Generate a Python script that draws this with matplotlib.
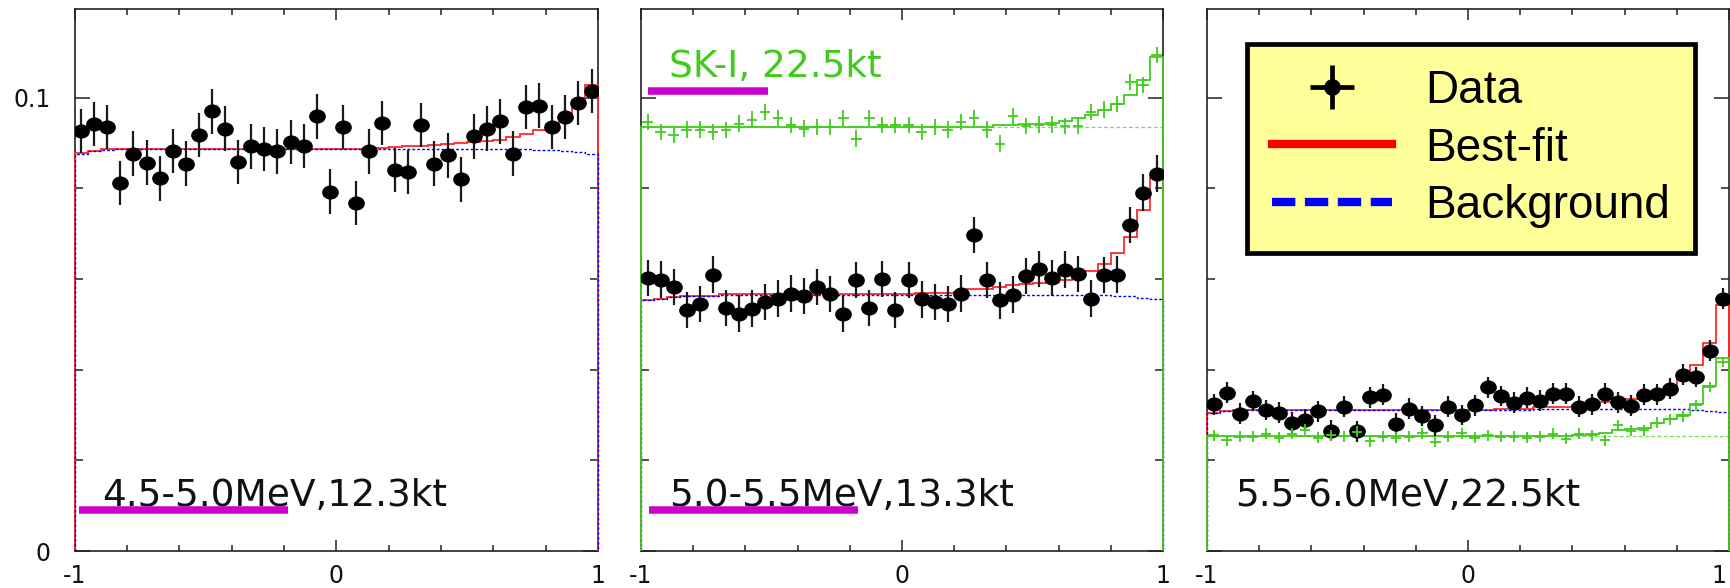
import numpy as np
import matplotlib
matplotlib.use("Agg")
import matplotlib.pyplot as plt
from matplotlib.path import Path
from matplotlib.lines import Line2D
from matplotlib.legend_handler import HandlerTuple
from matplotlib.ticker import MultipleLocator, FormatStrFormatter
from matplotlib.transforms import ScaledTranslation

plt.rcParams['axes.unicode_minus'] = False

# cos(theta_sun) binning: 40 bins from -1 to 1
COS_EDGES = np.linspace(-1, 1, 41)

PANEL_LABELS = ["4.5-5.0MeV,12.3kt", "5.0-5.5MeV,13.3kt", "5.5-6.0MeV,22.5kt"]
SK1_LABEL = "SK-I, 22.5kt"
LEGEND_LABELS = ["Data", "Best-fit", "Background"]

# ---- 4.5-5.0 MeV ----
data_45 = [0.0927, 0.0942, 0.0935, 0.0812, 0.0877, 0.0857, 0.0822, 0.0883, 0.0855, 0.0918,
           0.0970, 0.0932, 0.0858, 0.0893, 0.0887, 0.0882, 0.0902, 0.0894, 0.0959, 0.0793,
           0.0935, 0.0768, 0.0882, 0.0945, 0.0841, 0.0836, 0.0940, 0.0855, 0.0873, 0.0820,
           0.0915, 0.0932, 0.0948, 0.0877, 0.0980, 0.0983, 0.0935, 0.0958, 0.0989, 0.1015]
err_45 = 0.0049
fit_45 = [0.0878, 0.0883, 0.0886, 0.0887, 0.0887, 0.0887, 0.0887, 0.0887, 0.0887, 0.0887,
          0.0887, 0.0887, 0.0887, 0.0887, 0.0887, 0.0887, 0.0887, 0.0887, 0.0887, 0.0887,
          0.0887, 0.0888, 0.0889, 0.0890, 0.0891, 0.0893, 0.0894, 0.0896, 0.0898, 0.0900,
          0.0903, 0.0905, 0.0908, 0.0914, 0.0921, 0.0929, 0.0942, 0.0963, 0.0989, 0.1028]
bg_45 = [0.0877, 0.0882, 0.0885, 0.0887, 0.0887, 0.0887, 0.0887, 0.0887, 0.0887, 0.0887,
         0.0887, 0.0887, 0.0887, 0.0887, 0.0887, 0.0887, 0.0887, 0.0887, 0.0887, 0.0887,
         0.0887, 0.0887, 0.0887, 0.0887, 0.0887, 0.0887, 0.0887, 0.0887, 0.0887, 0.0887,
         0.0887, 0.0887, 0.0887, 0.0886, 0.0886, 0.0885, 0.0884, 0.0882, 0.0880, 0.0877]

# ---- 5.0-5.5 MeV ----
data_50 = [0.0603, 0.0599, 0.0583, 0.0531, 0.0545, 0.0610, 0.0537, 0.0524, 0.0535, 0.0550,
           0.0557, 0.0568, 0.0562, 0.0583, 0.0567, 0.0524, 0.0598, 0.0537, 0.0601, 0.0531,
           0.0598, 0.0555, 0.0550, 0.0545, 0.0568, 0.0698, 0.0598, 0.0553, 0.0566, 0.0607,
           0.0623, 0.0603, 0.0621, 0.0612, 0.0557, 0.0609, 0.0610, 0.0719, 0.0791, 0.0833]
err_50 = 0.0040
fit_50 = [0.0553, 0.0557, 0.0560, 0.0563, 0.0563, 0.0563, 0.0567, 0.0567, 0.0567, 0.0567,
          0.0567, 0.0567, 0.0567, 0.0567, 0.0567, 0.0567, 0.0567, 0.0567, 0.0567, 0.0567,
          0.0567, 0.0570, 0.0570, 0.0570, 0.0572, 0.0579, 0.0579, 0.0583, 0.0587, 0.0590,
          0.0592, 0.0594, 0.0599, 0.0609, 0.0618, 0.0634, 0.0658, 0.0693, 0.0752, 0.0822]
bg_50 = [0.0553, 0.0557, 0.0560, 0.0563, 0.0563, 0.0563, 0.0566, 0.0566, 0.0566, 0.0566,
         0.0566, 0.0566, 0.0566, 0.0566, 0.0566, 0.0566, 0.0566, 0.0566, 0.0566, 0.0566,
         0.0566, 0.0566, 0.0566, 0.0566, 0.0566, 0.0566, 0.0566, 0.0566, 0.0566, 0.0566,
         0.0566, 0.0566, 0.0566, 0.0566, 0.0566, 0.0565, 0.0563, 0.0562, 0.0558, 0.0557]
sk1_50 = [0.0947, 0.0925, 0.0919, 0.0930, 0.0930, 0.0925, 0.0929, 0.0943, 0.0952, 0.0969,
          0.0955, 0.0940, 0.0932, 0.0936, 0.0936, 0.0955, 0.0910, 0.0956, 0.0940, 0.0940,
          0.0940, 0.0925, 0.0936, 0.0930, 0.0947, 0.0955, 0.0930, 0.0899, 0.0960, 0.0938,
          0.0941, 0.0941, 0.0938, 0.0938, 0.0969, 0.0974, 0.0986, 0.1035, 0.1028, 0.1094]
sk1_err_50 = 0.0018
sk1_fit_50 = [0.0935, 0.0935, 0.0935, 0.0935, 0.0935, 0.0935, 0.0935, 0.0935, 0.0935, 0.0935,
              0.0935, 0.0935, 0.0935, 0.0935, 0.0935, 0.0935, 0.0935, 0.0935, 0.0935, 0.0935,
              0.0935, 0.0935, 0.0935, 0.0935, 0.0935, 0.0935, 0.0935, 0.0940, 0.0940, 0.0943,
              0.0943, 0.0945, 0.0949, 0.0955, 0.0962, 0.0973, 0.0986, 0.1006, 0.1039, 0.1091]
sk1_bg_50 = 0.0935

# ---- 5.5-6.0 MeV ----
data_55 = [0.0324, 0.0349, 0.0303, 0.0331, 0.0311, 0.0305, 0.0283, 0.0290, 0.0308, 0.0265,
           0.0318, 0.0264, 0.0339, 0.0345, 0.0281, 0.0314, 0.0298, 0.0277, 0.0318, 0.0300,
           0.0322, 0.0361, 0.0342, 0.0327, 0.0338, 0.0332, 0.0347, 0.0347, 0.0318, 0.0324,
           0.0347, 0.0328, 0.0321, 0.0345, 0.0346, 0.0358, 0.0389, 0.0384, 0.0442, 0.0557]
err_55 = 0.0023
fit_55 = [0.0305, 0.0310, 0.0312, 0.0312, 0.0312, 0.0312, 0.0312, 0.0312, 0.0312, 0.0312,
          0.0312, 0.0312, 0.0312, 0.0312, 0.0312, 0.0312, 0.0312, 0.0312, 0.0312, 0.0312,
          0.0312, 0.0312, 0.0314, 0.0314, 0.0314, 0.0318, 0.0318, 0.0318, 0.0322, 0.0322,
          0.0329, 0.0329, 0.0336, 0.0344, 0.0349, 0.0362, 0.0388, 0.0410, 0.0459, 0.0542]
bg_55 = [0.0305, 0.0310, 0.0312, 0.0312, 0.0312, 0.0312, 0.0312, 0.0312, 0.0312, 0.0312,
         0.0312, 0.0312, 0.0312, 0.0312, 0.0312, 0.0312, 0.0312, 0.0312, 0.0312, 0.0312,
         0.0312, 0.0312, 0.0312, 0.0312, 0.0312, 0.0314, 0.0314, 0.0314, 0.0314, 0.0314,
         0.0314, 0.0314, 0.0314, 0.0314, 0.0314, 0.0314, 0.0313, 0.0311, 0.0308, 0.0306]
sk1_55 = [0.0255, 0.0244, 0.0252, 0.0252, 0.0259, 0.0250, 0.0259, 0.0268, 0.0250, 0.0255,
          0.0253, 0.0263, 0.0242, 0.0252, 0.0250, 0.0252, 0.0260, 0.0241, 0.0252, 0.0260,
          0.0250, 0.0255, 0.0252, 0.0252, 0.0250, 0.0252, 0.0259, 0.0248, 0.0259, 0.0255,
          0.0244, 0.0277, 0.0265, 0.0266, 0.0283, 0.0291, 0.0297, 0.0322, 0.0362, 0.0417]
sk1_err_55 = 0.0012
sk1_fit_55 = [0.0253, 0.0253, 0.0253, 0.0253, 0.0253, 0.0253, 0.0253, 0.0253, 0.0253, 0.0253,
              0.0253, 0.0253, 0.0253, 0.0253, 0.0253, 0.0253, 0.0253, 0.0253, 0.0253, 0.0253,
              0.0253, 0.0253, 0.0253, 0.0253, 0.0253, 0.0253, 0.0253, 0.0253, 0.0257, 0.0258,
              0.0261, 0.0268, 0.0270, 0.0272, 0.0282, 0.0291, 0.0301, 0.0325, 0.0364, 0.0425]
sk1_bg_55 = 0.0253

GREEN = '#3fcc1a'
MAGENTA = '#cc00cc'
YMAX = 0.1196

# slightly wide ellipse, like the stretched original markers
_circ = Path.unit_circle()
ELLIPSE = Path(_circ.vertices * np.array([1.2, 1.0]), _circ.codes)


def draw_panel(ax, data, err, fit, bg, label, sk1=None, sk1_err=None, sk1_fit=None, sk1_bg=None):
    centers = (COS_EDGES[:-1] + COS_EDGES[1:]) / 2
    ax.stairs(fit, COS_EDGES, color='#ff2a2a', lw=1.3, zorder=3, clip_on=False)
    ax.stairs(bg, COS_EDGES, color='blue', lw=1.0, ls=(0, (2, 1.5)), zorder=3, clip_on=False)
    ax.errorbar(centers, data, yerr=err, fmt='none', ecolor='#1a1a1a', elinewidth=1.6, zorder=4)
    ax.plot(centers, data, ls='none', marker=ELLIPSE, ms=11, color='black', zorder=5)
    if sk1 is not None:
        ax.hlines(sk1_bg, -1, 1, colors='#77dd55', lw=0.9, linestyles=(0, (3, 2)), zorder=3)
        ax.stairs(sk1_fit, COS_EDGES, color=GREEN, lw=1.3, zorder=3.5, clip_on=False)
        ax.errorbar(centers, sk1, xerr=0.02, yerr=sk1_err, fmt='none', ecolor=GREEN,
                    elinewidth=1.3, zorder=6)

    ax.text(-0.894, 0.0099, label, fontsize=27, family='DejaVu Sans', va='baseline', ha='left',
            color='#111111', zorder=7)

    ax.set_xlim(-1, 1)
    ax.set_ylim(0, YMAX)
    ax.xaxis.set_major_locator(MultipleLocator(1))
    ax.xaxis.set_minor_locator(MultipleLocator(0.2))
    ax.yaxis.set_major_locator(MultipleLocator(0.1))
    ax.yaxis.set_minor_locator(MultipleLocator(0.02))
    ax.xaxis.set_major_formatter(FormatStrFormatter('%g'))
    ax.yaxis.set_major_formatter(FormatStrFormatter('%g'))
    ax.tick_params(which='both', direction='in', top=True, right=True, color='#333333',
                   width=1.2, labelsize=17, labelcolor='#111111')
    ax.tick_params(axis='x', which='major', length=8, pad=9)
    ax.tick_params(axis='x', which='minor', length=4)
    ax.tick_params(axis='y', which='major', length=11, pad=17)
    ax.tick_params(axis='y', which='minor', length=5.5)
    for sp in ax.spines.values():
        sp.set_color('#222222')
        sp.set_linewidth(1.2)


def underline(ax, x0, x1, y):
    ax.plot([x0, x1], [y, y], color=MAGENTA, lw=5.4, solid_capstyle='butt', zorder=8)


def add_legend(ax):
    data_h = (Line2D([], [], color='black', marker='+', ms=32, mew=3.4, ls='none'),
              Line2D([], [], color='black', marker='o', ms=11, ls='none'))
    fit_h = Line2D([], [], color='red', lw=6)
    bg_h = Line2D([], [], color='blue', lw=6, ls=(0, (2.8, 1.15)))
    leg = ax.legend([data_h, fit_h, bg_h], LEGEND_LABELS,
                    handler_map={tuple: HandlerTuple(ndivide=1)},
                    loc='upper left', bbox_to_anchor=(0.0766, 0.9354), borderaxespad=0,
                    prop={'family': 'Liberation Sans', 'size': 33},
                    handlelength=2.62, handletextpad=0.72, labelspacing=0.29,
                    borderpad=0.55, fancybox=False, framealpha=1)
    leg.get_frame().set_facecolor('#ffff99')
    leg.get_frame().set_edgecolor('black')
    leg.get_frame().set_linewidth(3.4)
    leg.set_zorder(10)


if __name__ == '__main__':
    fig = plt.figure(figsize=(17.31, 5.88), dpi=100)
    ax1 = fig.add_axes([0.0431, 0.0629, 0.3024, 0.9218])
    ax2 = fig.add_axes([0.3703, 0.0629, 0.3016, 0.9218])
    ax3 = fig.add_axes([0.6973, 0.0629, 0.3016, 0.9218])

    draw_panel(ax1, data_45, err_45, fit_45, bg_45, PANEL_LABELS[0])
    draw_panel(ax2, data_50, err_50, fit_50, bg_50, PANEL_LABELS[1],
               sk1_50, sk1_err_50, sk1_fit_50, sk1_bg_50)
    draw_panel(ax3, data_55, err_55, fit_55, bg_55, PANEL_LABELS[2],
               sk1_55, sk1_err_55, sk1_fit_55, sk1_bg_55)
    ax2.tick_params(labelleft=False)
    ax3.tick_params(labelleft=False)

    underline(ax1, -0.985, -0.185, 0.0090)
    underline(ax2, -0.971, -0.169, 0.0090)
    underline(ax2, -0.973, -0.512, 0.1016)
    ax2.text(-0.894, 0.1046, SK1_LABEL, fontsize=27, family='DejaVu Sans', va='baseline',
             ha='left', color=GREEN, zorder=7)

    add_legend(ax3)

    # the last "1" sits on the figure edge; pull it just inside
    fig.canvas.draw()
    for lab in ax3.get_xticklabels():
        if lab.get_text() == '1':
            lab.set_horizontalalignment('right')
            lab.set_transform(lab.get_transform()
                              + ScaledTranslation(-2 / 72, 0, fig.dpi_scale_trans))
    fig.savefig('out.png', dpi=100)
